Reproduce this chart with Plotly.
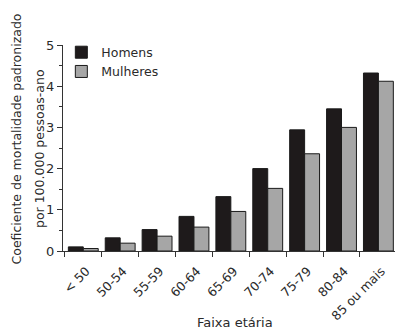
import plotly.graph_objects as go

# Age groups and standardized mortality rates (per 100,000 person-years)
faixas = ["< 50", "50-54", "55-59", "60-64", "65-69", "70-74", "75-79", "80-84", "85 ou mais"]
homens = [0.10, 0.32, 0.52, 0.84, 1.32, 2.00, 2.94, 3.45, 4.32]
mulheres = [0.06, 0.19, 0.36, 0.58, 0.96, 1.52, 2.36, 3.00, 4.12]

FONT = "DejaVu Sans"
TXT = "#2a2a2a"

fig = go.Figure()
fig.add_trace(go.Bar(
    x=faixas, y=homens, name="Homens",
    marker=dict(color="#1e1a1b", line=dict(color="#1a1a1a", width=1)),
))
fig.add_trace(go.Bar(
    x=faixas, y=mulheres, name="Mulheres",
    marker=dict(color="#a6a6a6", line=dict(color="#1a1a1a", width=1)),
))

fig.update_layout(
    width=395, height=329,
    margin=dict(l=63, r=0, t=45, b=78),
    paper_bgcolor="white", plot_bgcolor="white",
    barmode="group", bargap=0.19, bargroupgap=0,
    font=dict(family=FONT, size=12, color=TXT),
    showlegend=True,
    legend=dict(
        x=-0.005, y=1.036, xanchor="left", yanchor="top",
        bgcolor="rgba(0,0,0,0)", borderwidth=0,
        font=dict(family=FONT, size=12.5, color=TXT),
        itemwidth=30, tracegroupgap=0,
    ),
    xaxis=dict(
        type="category", range=[-0.55, 8.45],
        showline=True, linecolor="#333", linewidth=1,
        ticks="outside", tickson="boundaries", ticklen=5, tickcolor="#333",
        tickangle=-45, tickfont=dict(size=12.5, color=TXT),
        ticklabelstandoff=7, ticklabelshift=3,
        showgrid=False,
    ),
    yaxis=dict(
        range=[0, 5], dtick=1, tick0=0,
        showline=True, linecolor="#333", linewidth=1,
        ticks="outside", ticklen=5, tickcolor="#333",
        tickfont=dict(size=13, color=TXT),
        minor=dict(dtick=0.5, ticks="outside", ticklen=3, tickcolor="#333"),
        showgrid=False, zeroline=False,
    ),
    annotations=[
        dict(text="Coeficiente de mortalidade padronizado",
             xref="paper", yref="paper", x=0, y=0.5437, xshift=-46.5,
             xanchor="center", yanchor="middle", textangle=-90, showarrow=False,
             font=dict(family=FONT, size=12.5, color=TXT)),
        dict(text="por 100.000 pessoas-ano",
             xref="paper", yref="paper", x=0, y=0.495, xshift=-24,
             xanchor="center", yanchor="middle", textangle=-90, showarrow=False,
             font=dict(family=FONT, size=12.5, color=TXT)),
        dict(text="Faixa etária",
             xref="paper", yref="paper", x=0.518, y=-0.345,
             xanchor="center", yanchor="middle", showarrow=False,
             font=dict(family=FONT, size=13, color=TXT)),
    ],
)

fig.write_html("out.html")
